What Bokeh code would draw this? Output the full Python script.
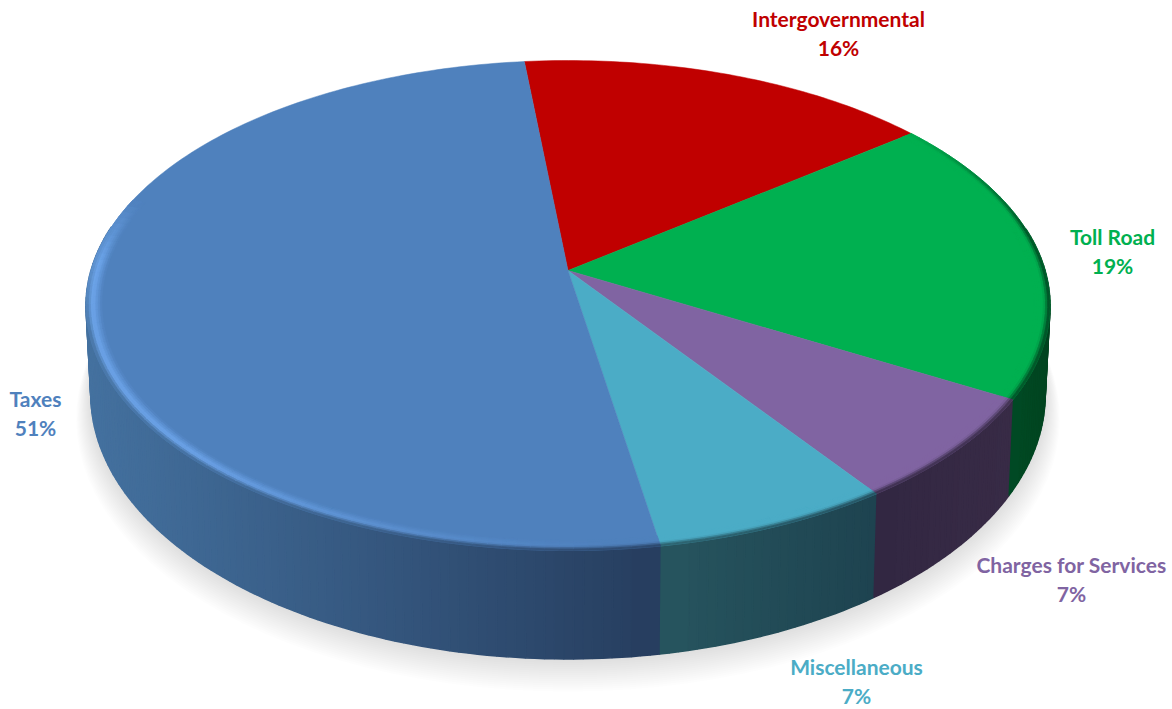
import math
from bokeh.embed import file_html
from bokeh.resources import INLINE
from bokeh.plotting import figure
from bokeh.models import Range1d
from bokeh.core.properties import value

categories = ["Intergovernmental", "Toll Road", "Charges for Services", "Miscellaneous", "Taxes"]
shares = [16, 19, 7, 7, 51]
share_labels = ["16%", "19%", "7%", "7%", "51%"]
top_colors = ["#C00000", "#00B050", "#8064A2", "#4BACC6", "#4F81BD"]
wall_left = ["#5a0000", "#004a24", "#322742", "#27555f", "#44719f"]
wall_right = ["#5a0000", "#00431f", "#382b46", "#1e4350", "#263d5e"]
label_pos = [(838, 18), (1112, 236), (1071, 564), (856, 666), (35, 398)]

CX, CY = 567.5, 270.0
A, B, K = 240.0, 477.0, -0.1429
DEPTH, SX, SY = 86.0, 0.99, 1.08
START = -6.0


def proj(deg, r=1.0, sx=1.0, sy=1.0, dy=0.0):
    t = math.radians(deg)
    x, y = r * math.sin(t), -r * math.cos(t)
    w = 1 + K * y
    return CX + sx * B * x / w, CY + dy + sy * A * y / w


def low(deg, r=1.0, extra=0.0):
    return proj(deg, r, SX, SY, DEPTH + extra)


def hex2(c):
    return [int(c[i:i + 2], 16) for i in (1, 3, 5)]


def mix(c1, c2, t):
    t = max(0.0, min(1.0, t))
    a, b = hex2(c1), hex2(c2)
    return "#%02x%02x%02x" % tuple(round(a[i] + (b[i] - a[i]) * t) for i in range(3))


def clamp(t):
    return max(0.0, min(1.0, t))


edges = [START]
for v in shares:
    edges.append(edges[-1] + v * 360.0 / sum(shares))

x_spans = []
for i in range(len(shares)):
    xa, xb = low(edges[i + 1])[0], low(edges[i])[0]
    lo, hi = min(xa, xb), max(xa, xb)
    if i == 4:
        lo = 90.0
    if i == 1:
        lo, hi = 1010.0, 1048.0
    x_spans.append((lo, hi))


def wall_color(i, x):
    lo, hi = x_spans[i]
    return mix(wall_left[i], wall_right[i], (x - lo) / (hi - lo))


W, H = 1172, 709
p = figure(width=W, height=H, x_range=Range1d(0, W), y_range=Range1d(H, 0),
           toolbar_location=None, output_backend="svg", min_border=0)
p.axis.visible = False
p.grid.visible = False
p.outline_line_color = None
p.background_fill_color = "white"
p.border_fill_color = "white"

# soft shadow under the pie
N = 16
for i in range(N, 0, -1):
    f = i / N
    pts = [low(d, 1.0 + 0.03 * f, 22 * f) for d in range(0, 360, 3)]
    p.patch([q[0] for q in pts], [q[1] for q in pts], fill_color="#777777", fill_alpha=0.017, line_color=None)

# side walls, shaded by horizontal position
for i in range(len(shares)):
    a0, a1 = edges[i], edges[i + 1]
    n = max(2, int((a1 - a0) / 1.0))
    xs, ys, cols = [], [], []
    for j in range(n):
        d0 = a0 + (a1 - a0) * j / n
        d1 = a0 + (a1 - a0) * (j + 1) / n
        mid = low((d0 + d1) / 2)
        if mid[1] < CY + 40:
            continue
        a, b = proj(d0), proj(d1)
        c, e = low(d1), low(d0)
        xs.append([a[0], b[0], c[0], e[0]])
        ys.append([a[1], b[1], c[1], e[1]])
        cols.append(wall_color(i, mid[0]))
    p.patches(xs, ys, fill_color=cols, line_color=cols, line_width=1.6)

# keep the seam between neighbouring walls on the slice edge
for i in (4, 3, 2, 1):
    a0, a1 = edges[i], edges[i + 1]
    if i == 4:
        a0_, a1_ = a0, a0 + 3
    else:
        a0_, a1_ = a1 - 3, a1
    a, b, c, e = proj(a0_), proj(a1_), low(a1_), low(a0_)
    col = wall_color(i, low((a0_ + a1_) / 2)[0])
    p.patch([a[0], b[0], c[0], e[0]], [a[1], b[1], c[1], e[1]], fill_color=col, line_color=None)

# top surface
for i in range(len(shares)):
    n = max(2, int(edges[i + 1] - edges[i]))
    pts = [(CX, CY)] + [proj(edges[i] + (edges[i + 1] - edges[i]) * j / n) for j in range(n + 1)]
    p.patch([q[0] for q in pts], [q[1] for q in pts], fill_color=top_colors[i],
            line_color=top_colors[i], line_width=0.5)

# rounded edge of the top surface
R0 = 0.968
LAYERS = 7
bx, by, bc = [], [], []
for i in range(len(shares)):
    a0, a1 = edges[i], edges[i + 1]
    n = max(2, int((a1 - a0) / 1.5))
    for j in range(n):
        d0 = a0 + (a1 - a0) * j / n
        d1 = a0 + (a1 - a0) * (j + 1) / n
        dm = ((d0 + d1) / 2) % 360
        wall = wall_color(i, low(dm)[0])
        front = clamp((-math.cos(math.radians(dm)) + 0.25) / 0.5)
        right_edge = clamp((dm - 50) / 30) if i == 1 else 0.0
        vis = max(front, right_edge)
        hl_amount = clamp((dm - 176) / 50) * clamp((288 - dm) / 16) if i == 4 else 0.0
        if vis <= 0 and hl_amount <= 0:
            continue
        hl = mix(top_colors[i], "#6ea6ec", hl_amount)
        for k in range(LAYERS):
            t0, t1 = k / LAYERS, (k + 1) / LAYERS
            r0, r1 = R0 + (1 - R0) * t0, R0 + (1 - R0) * t1
            tm = (t0 + t1) / 2
            if tm < 0.6:
                col = mix(top_colors[i], hl, tm / 0.6)
            else:
                col = mix(hl, wall, ((tm - 0.6) / 0.4) * vis)
            q = [proj(d0, r0), proj(d1, r0), proj(d1, r1), proj(d0, r1)]
            bx.append([u[0] for u in q])
            by.append([u[1] for u in q])
            bc.append(col)
p.patches(bx, by, fill_color=bc, line_color=bc, line_width=0.8)

# data labels
for name, pct, col, (lx, ly) in zip(categories, share_labels, top_colors, label_pos):
    p.text([lx], [ly], text=[name], text_color=col, text_font=value("Lato"), text_font_style="bold",
           text_font_size="21px", text_align="center", text_baseline="middle")
    p.text([lx], [ly + 29], text=[pct], text_color=col, text_font=value("Lato"), text_font_style="bold",
           text_font_size="21px", text_align="center", text_baseline="middle")

open("out.html", "w").write(file_html(p, INLINE))
